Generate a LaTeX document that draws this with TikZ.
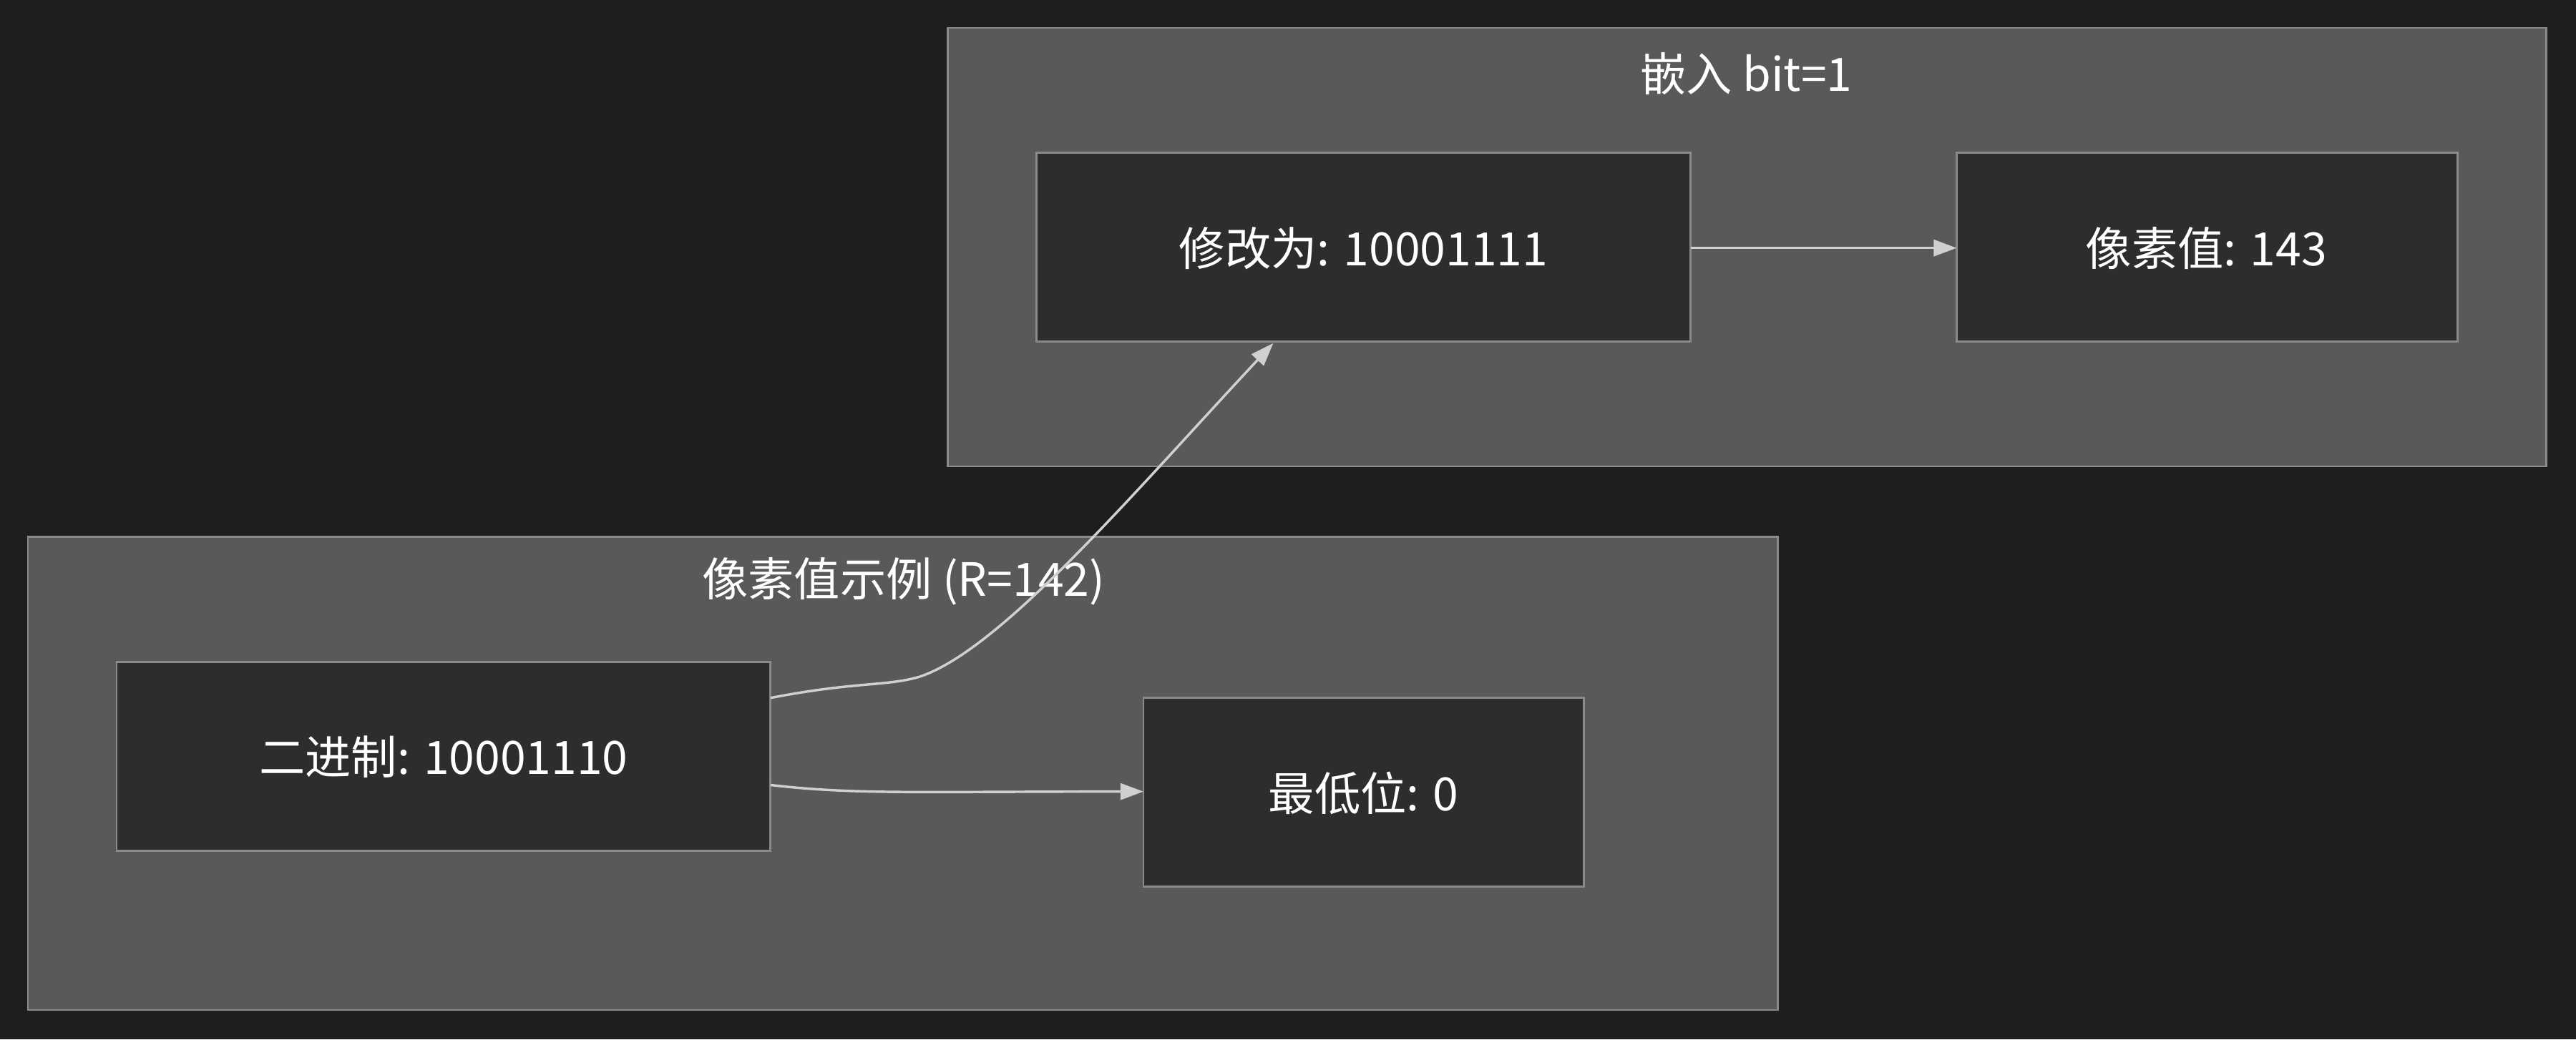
\documentclass[tikz,border=0pt]{standalone}
\usepackage{fontspec}
\setmainfont{Noto Sans CJK SC}
\usetikzlibrary{arrows.meta}
\definecolor{bg}{HTML}{1E1E1E}
\definecolor{cl}{HTML}{595959}
\definecolor{nd}{HTML}{2D2D2D}
\definecolor{bd}{HTML}{8A8A8A}
\definecolor{ln}{HTML}{D0D0D0}
\begin{document}
\begin{tikzpicture}[x=1pt,y=-1pt,
  clus/.style={fill=cl,draw=bd,line width=1.2pt},
  box/.style={fill=nd,draw=bd,line width=1.2pt},
  txt/.style={text=white,font=\fontsize{28}{32}\selectfont},
  edge/.style={draw=ln,line width=1.5pt,-{Triangle[length=14pt,width=10pt]}}]
\fill[bg] (0,0) rectangle (1568,633);
\useasboundingbox (0,0) rectangle (1568,633);
\draw[clus] (577,17) rectangle (1550,284);
\node[txt] (t1) at (1063,45) {嵌入 bit=1};
\draw[clus] (17,327) rectangle (1082,615);
\node[txt] (t2) at (550,354) {像素值示例 (R=142)};
\draw[box] (631,93) rectangle (1029,208);
\node[txt] (a) at (830,151) {修改为: 10001111};
\draw[box] (1191,93) rectangle (1496,208);
\node[txt] (b) at (1343,151) {像素值: 143};
\draw[box] (71,403) rectangle (469,518);
\node[txt] (c) at (270,461) {二进制: 10001110};
\draw[box] (696,425) rectangle (964,540);
\node[txt] (d) at (830,483) {最低位: 0};
\coordinate (a1) at (1029,151); \coordinate (b1) at (1191,151);
\coordinate (c1) at (469,425); \coordinate (c2) at (469,478);
\coordinate (aa) at (775,209); \coordinate (d1) at (696,482);
\draw[edge] (a1) -- (b1);
\draw[edge] (c1) .. controls (520,415) and (540,418) .. (560,412) .. controls (610,395) and (690,300) .. (aa);
\draw[edge] (c2) .. controls (520,484) and (560,482) .. (d1);
\end{tikzpicture}
\end{document}
